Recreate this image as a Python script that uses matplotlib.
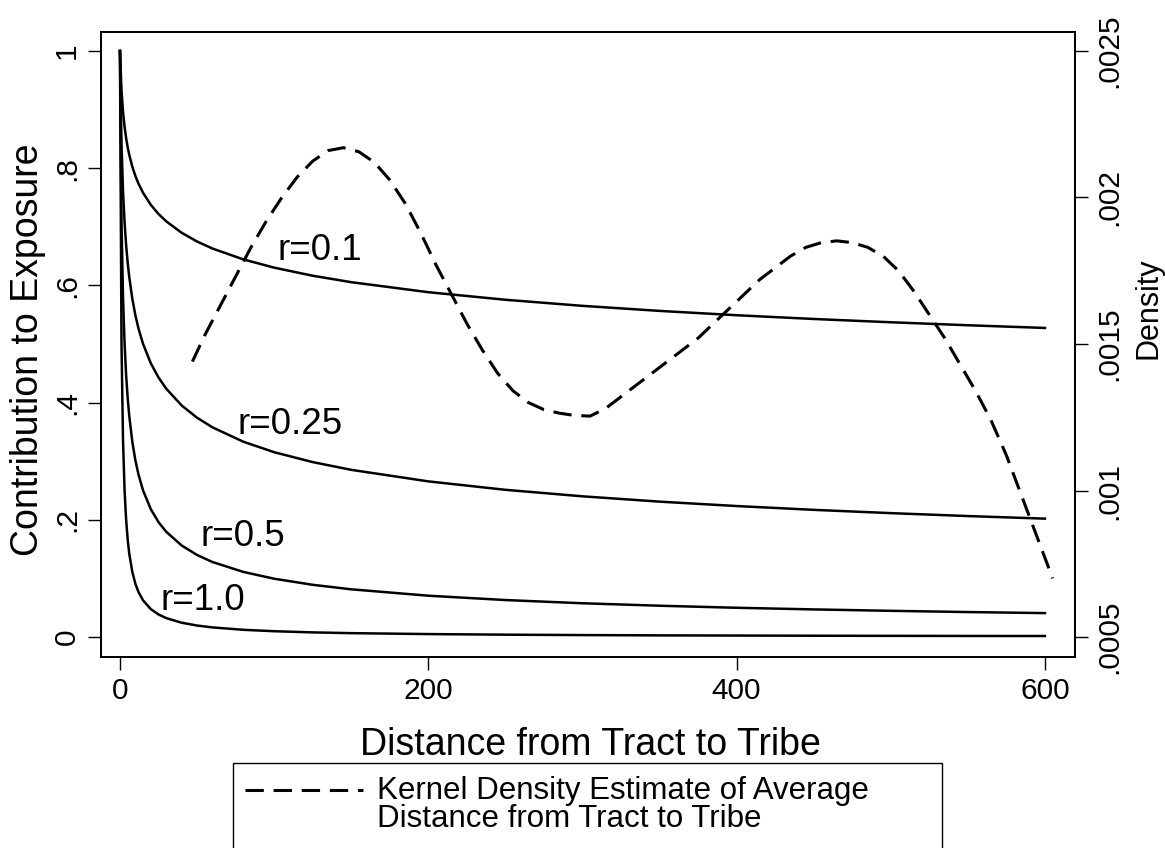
import matplotlib
matplotlib.use("Agg")
import matplotlib.pyplot as plt
from matplotlib.lines import Line2D
from matplotlib.patches import Rectangle

plt.rcParams['font.family'] = ['Liberation Sans', 'DejaVu Sans']

# distance grid (miles) used for the exposure-decay curves
distance = [0, 1, 2, 3, 4, 5, 6, 8, 10, 12, 15, 20, 25, 30, 40, 50, 60, 80, 100,
            125, 150, 200, 250, 300, 350, 400, 450, 500, 550, 600]

contrib_r01 = [1.000, 0.9330, 0.8960, 0.8706, 0.8513, 0.8360, 0.8232, 0.8027, 0.7868,
               0.7738, 0.7579, 0.7375, 0.7219, 0.7094, 0.6898, 0.6749, 0.6629, 0.6444,
               0.6303, 0.6165, 0.6055, 0.5884, 0.5755, 0.5651, 0.5565, 0.5491, 0.5427,
               0.5371, 0.5320, 0.5274]
contrib_r025 = [1.000, 0.8409, 0.7598, 0.7071, 0.6687, 0.6389, 0.6148, 0.5774, 0.5491,
                0.5266, 0.5000, 0.4671, 0.4429, 0.4238, 0.3952, 0.3742, 0.3578, 0.3333,
                0.3154, 0.2985, 0.2853, 0.2656, 0.2512, 0.2401, 0.2310, 0.2235, 0.2170,
                0.2114, 0.2064, 0.2020]
contrib_r05 = [1.000, 0.7071, 0.5774, 0.5000, 0.4472, 0.4082, 0.3780, 0.3333, 0.3015,
               0.2774, 0.2500, 0.2182, 0.1961, 0.1796, 0.1562, 0.1400, 0.1280, 0.1111,
               0.0995, 0.0891, 0.0814, 0.0705, 0.0631, 0.0576, 0.0534, 0.0499, 0.0471,
               0.0447, 0.0426, 0.0408]
contrib_r1 = [1.000, 0.5000, 0.3333, 0.2500, 0.2000, 0.1667, 0.1429, 0.1111, 0.0909,
              0.0769, 0.0625, 0.0476, 0.0385, 0.0323, 0.0244, 0.0196, 0.0164, 0.0123,
              0.0099, 0.0079, 0.0066, 0.0050, 0.0040, 0.0033, 0.0028, 0.0025, 0.0022,
              0.0020, 0.0018, 0.0017]

curve_labels = ["r=0.1", "r=0.25", "r=0.5", "r=1.0"]
label_x = [102, 76, 52, 26]
label_y = [0.66, 0.362, 0.171, 0.063]

# kernel density estimate of average distance (right axis)
kde_x = [47, 55, 65, 75, 85, 95, 105, 115, 125, 135, 145, 155, 165, 175, 185, 195,
         205, 215, 225, 235, 245, 255, 265, 275, 285, 295, 305, 315, 325, 335, 345,
         355, 365, 375, 385, 395, 405, 415, 425, 435, 445, 455, 465, 475, 485, 495,
         505, 515, 525, 535, 545, 555, 565, 575, 585, 595, 605]
kde_y = [0.00144, 0.00153, 0.00163, 0.00173, 0.00183, 0.00192, 0.00200, 0.00207,
         0.002124, 0.00216, 0.00217, 0.002156, 0.00212, 0.00206, 0.00198, 0.00188,
         0.00177, 0.00167, 0.00157, 0.00148, 0.00140, 0.00134, 0.00130, 0.001276,
         0.001264, 0.001256, 0.001254, 0.00128, 0.00132, 0.00136, 0.00140, 0.00144,
         0.00148, 0.00152, 0.00157, 0.00162, 0.00167, 0.00172, 0.00176, 0.00180,
         0.00183, 0.001846, 0.001852, 0.001846, 0.00183, 0.00180, 0.00175, 0.00168,
         0.00160, 0.00152, 0.00143, 0.00134, 0.00124, 0.00112, 0.00098, 0.00084,
         0.00070]

left_ticks = [0, 0.2, 0.4, 0.6, 0.8, 1.0]
left_ticklabels = ["0", ".2", ".4", ".6", ".8", "1"]
right_ticks = [0.0005, 0.001, 0.0015, 0.002, 0.0025]
right_ticklabels = [".0005", ".001", ".0015", ".002", ".0025"]
x_ticks = [0, 200, 400, 600]
legend_text = "Kernel Density Estimate of Average\nDistance from Tract to Tribe"

W, H = 1165, 848
fig = plt.figure(figsize=(W / 100, H / 100), dpi=100)
L, R, T, B = 101, 1075, 32, 657
ax = fig.add_axes([L / W, 1 - B / H, (R - L) / W, (B - T) / H])
ax2 = ax.twinx()

ylo, yhi = -0.0341, 1.0324
ax.set_xlim(-12.3, 619.5)
ax.set_ylim(ylo, yhi)
ax2.set_ylim(0.0005 + 0.002 * ylo, 0.0005 + 0.002 * yhi)

lw_solid = 1.8
for vals in [contrib_r01, contrib_r025, contrib_r05, contrib_r1]:
    ax.plot(distance, vals, color='black', lw=lw_solid, solid_joinstyle='round')

ax2.plot(kde_x, kde_y, color='black', lw=2.2, dashes=(6, 3.2), dash_capstyle='butt',
         dash_joinstyle='round')

fs_lab = 26.5
for t, xx, yy in zip(curve_labels, label_x, label_y):
    ax.text(xx, yy, t, fontsize=fs_lab, ha='left', va='center')

fs_tick = 21.5
ax.set_xticks(x_ticks)
ax.set_xticklabels([str(v) for v in x_ticks], fontsize=fs_tick)
ax.set_yticks(left_ticks)
ax.set_yticklabels(left_ticklabels, fontsize=fs_tick, rotation=90, va='center')
ax2.set_yticks(right_ticks)
ax2.set_yticklabels(right_ticklabels, fontsize=fs_tick, rotation=90, va='center')

for a in (ax, ax2):
    a.tick_params(direction='out', length=9.5, width=1.0, color='black', pad=5)
    for s in a.spines.values():
        s.set_linewidth(1.4)
        s.set_color('black')

# axis titles placed in figure pixels
fig.text(590 / W, 1 - 745 / H, "Distance from Tract to Tribe", fontsize=27,
         ha='center', va='center')
fig.text(28 / W, 1 - 350 / H, "Contribution to Exposure", fontsize=27,
         ha='center', va='center', rotation=90)
fig.text(1148 / W, 1 - 308 / H, "Density", fontsize=22,
         ha='center', va='center', rotation=90)

# legend box (manually placed, extends below the figure edge)
rect = Rectangle((233 / W, -0.05), (942 - 233) / W, 0.05 + (H - 763) / H,
                 transform=fig.transFigure, fill=False, ec='black', lw=1.0)
fig.patches.append(rect)
fig.lines.append(Line2D([245 / W, 363 / W], [1 - 790 / H, 1 - 790 / H],
                        transform=fig.transFigure, color='black', lw=2.2,
                        dashes=(6, 3.2), dash_capstyle='butt'))
fig.text(377 / W, 1 - 805 / H, legend_text, fontsize=22.5, ha='left',
         va='center', multialignment='left', linespacing=0.9)

fig.savefig("out.png", dpi=100)
